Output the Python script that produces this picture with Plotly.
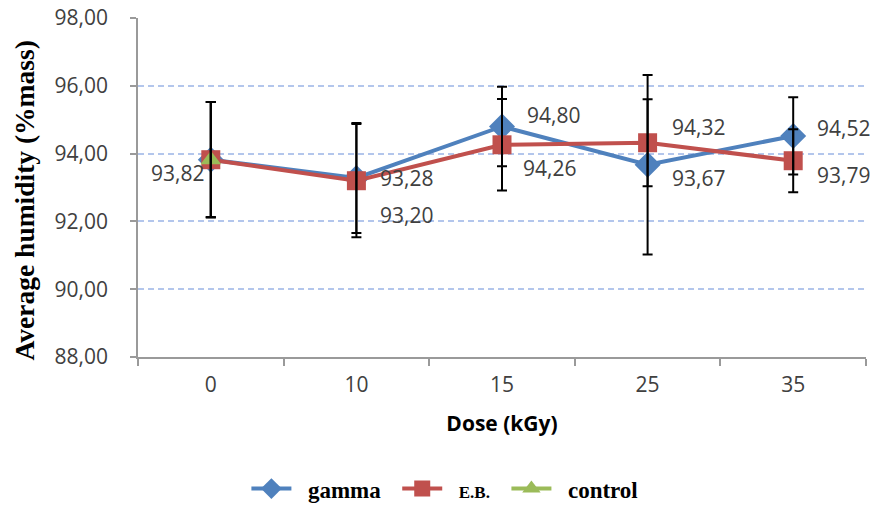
import plotly.graph_objects as go

doses = ["0", "10", "15", "25", "35"]
gamma = [93.82, 93.28, 94.80, 93.67, 94.52]
gamma_err = [1.70, 1.62, 1.17, 2.65, 1.14]
eb = [93.82, 93.20, 94.26, 94.32, 93.79]
eb_err = [1.70, 1.67, 1.35, 1.28, 0.93]
control_x = ["0"]
control = [93.82]
control_err = [1.70]
y_ticks = [88, 90, 92, 94, 96, 98]

BLUE = "#4F81BD"
RED = "#C0504D"
GREEN = "#9BBB59"
TXT = "#404040"
AXC = "#9A9A9A"
PAD = "&nbsp;&nbsp;"

# label offsets (style): (xshift px, yshift px, anchor) per point
gamma_lbl = [None, (22, 0, "left"), (23, 11, "left"), (22, -13, "left"), (22, 8, "left")]
eb_lbl = [None, (22, -34, "left"), (19, -23, "left"), (22, 16, "left"), (22, -14, "left")]
control_lbl = [(-5, -13, "right")]

fig = go.Figure()
fig.add_trace(go.Scatter(x=doses, y=gamma, name=PAD + "<b>gamma</b>" + PAD, mode="lines+markers",
                         line=dict(color=BLUE, width=4),
                         marker=dict(symbol="diamond", size=20, color=BLUE)))
fig.add_trace(go.Scatter(x=doses, y=eb,
                         name=PAD + "<b><span style='font-size:17px'>E.B.</span></b>" + PAD,
                         mode="lines+markers", line=dict(color=RED, width=4),
                         marker=dict(symbol="square", size=19, color=RED)))
fig.add_trace(go.Scatter(x=control_x, y=control, name=PAD + "<b>control</b>", mode="lines+markers",
                         line=dict(color=GREEN, width=4),
                         marker=dict(symbol="triangle-up", size=18, color=GREEN)))

# error bars drawn on top
for xs, ys, es in [(doses, gamma, gamma_err), (doses, eb, eb_err), (control_x, control, control_err)]:
    fig.add_trace(go.Scatter(x=xs, y=ys, mode="markers", showlegend=False, hoverinfo="skip",
                             marker=dict(size=1, opacity=0),
                             error_y=dict(type="data", array=es, visible=True,
                                          color="black", thickness=2, width=5)))

anns = []
for xs, ys, offs in [(doses, gamma, gamma_lbl), (doses, eb, eb_lbl), (control_x, control, control_lbl)]:
    for xv, yv, o in zip(xs, ys, offs):
        if o is None:
            continue
        anns.append(dict(x=doses.index(xv), y=yv, xref="x", yref="y",
                         text=f"{yv:.2f}".replace(".", ","),
                         showarrow=False, xanchor=o[2], yanchor="middle",
                         xshift=o[0], yshift=o[1],
                         font=dict(family="Open Sans", size=21, color=TXT)))

# y-axis title as a rotated annotation
anns.append(dict(x=-0.156, y=0.463, xref="paper", yref="paper", textangle=-90,
                 text="<b>Average humidity (%mass)</b>", showarrow=False,
                 xanchor="center", yanchor="middle",
                 font=dict(family="Liberation Serif", size=27.5, color="black")))

fig.update_layout(
    width=881, height=509,
    margin=dict(l=138, r=15, t=18, b=152, autoexpand=False),
    plot_bgcolor="white", paper_bgcolor="white",
    separators=", ",
    showlegend=True,
    legend=dict(orientation="h", xref="container", yref="container",
                x=0.505, xanchor="center", y=0.04, yanchor="middle",
                font=dict(family="Liberation Serif", size=23, color="black"),
                itemwidth=40, bgcolor="rgba(0,0,0,0)"),
    annotations=anns,
)
fig.update_xaxes(type="category", categoryorder="array", categoryarray=doses,
                 range=[-0.5, len(doses) - 0.5], automargin=False,
                 showline=True, linecolor=AXC, linewidth=1.5,
                 ticks="outside", ticklen=7, tickcolor=AXC, tickwidth=1.5,
                 tickson="boundaries",
                 showgrid=False, zeroline=False, tickangle=0,
                 tickfont=dict(family="Open Sans", size=21, color=TXT),
                 ticklabelstandoff=8,
                 title=dict(text="<b>Dose (kGy)</b>", standoff=19,
                            font=dict(family="Open Sans", size=21, color="black")))
fig.update_yaxes(range=[88, 98], tickvals=y_ticks, tickformat=".2f", automargin=False,
                 showline=True, linecolor=AXC, linewidth=1.5,
                 ticks="outside", ticklen=6, tickcolor=AXC, tickwidth=1.5,
                 showgrid=True, gridcolor="#B3C6EC", griddash="6px,4px", gridwidth=2,
                 zeroline=False,
                 tickfont=dict(family="Open Sans", size=21, color=TXT),
                 ticklabelstandoff=18)

fig.write_html("out.html", config={"displayModeBar": False},
               post_script="document.body.style.margin='0';document.body.style.padding='0';")
